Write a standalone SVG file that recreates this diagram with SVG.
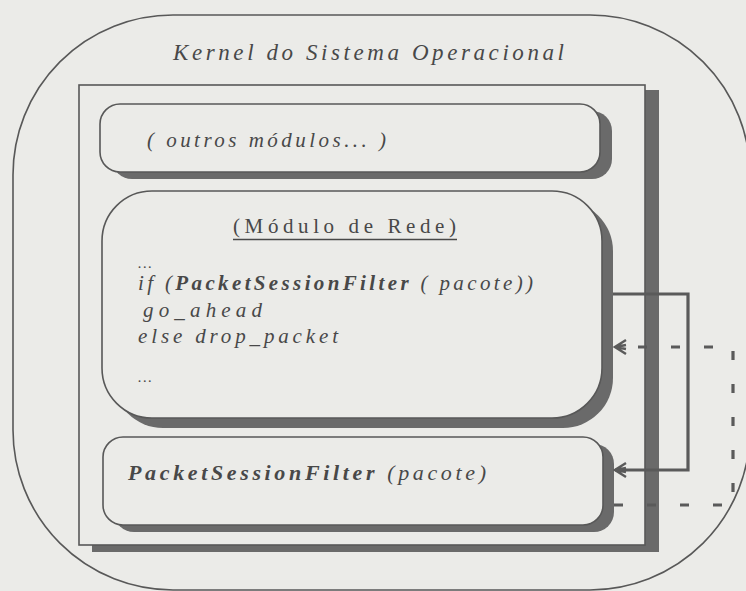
<svg xmlns="http://www.w3.org/2000/svg" width="746" height="591" viewBox="0 0 746 591">
<style>
.bg{fill:#ebebe8}
.ln{fill:none;stroke:#585858;stroke-width:1.6}
.box{fill:#ebebe8;stroke:#585858;stroke-width:1.6}
.sh{fill:#6a6a6a}
.t{font-family:"Liberation Serif","Times New Roman",serif;font-style:italic;fill:#484848}
.b{font-weight:bold}
.con{fill:none;stroke:#5a5a5a;stroke-width:3.2}
.dash{stroke-dasharray:9 24}
</style>
<defs>
<marker id="arr" viewBox="-14 -10 16 20" refX="0" refY="0" markerWidth="16" markerHeight="20" markerUnits="userSpaceOnUse" orient="auto">
<path d="M-11,-7 L0,0 L-11,7 M-11,-2 L0,0 L-11,2" fill="none" stroke="#5a5a5a" stroke-width="2.4"/>
</marker>
</defs>
<rect class="bg" x="0" y="0" width="746" height="591"/>
<g id="kernel">
<rect class="ln" x="13" y="15" width="737" height="575" rx="160" ry="160"/>
<text class="t" x="173" y="60" font-size="23" textLength="391" lengthAdjust="spacing">Kernel do Sistema Operacional</text>
</g>
<g id="container">
<rect class="sh" x="645" y="90" width="14" height="462"/>
<rect class="sh" x="92" y="545" width="567" height="7"/>
<rect class="ln" x="79" y="85" width="566" height="460"/>
</g>
<g id="outros">
<rect class="sh" x="112" y="111" width="500" height="68" rx="20"/>
<rect class="box" x="100" y="104" width="500" height="68" rx="20"/>
<text class="t" x="147" y="147" font-size="21" textLength="239" lengthAdjust="spacing">( outros módulos... )</text>
</g>
<g id="rede">
<rect class="sh" x="113" y="201" width="500" height="227" rx="50"/>
<rect class="box" x="102" y="191" width="500" height="227" rx="50"/>
<text class="t" x="233" y="233" font-size="21" style="font-style:normal" textLength="223" lengthAdjust="spacing">(Módulo de Rede)</text>
<line x1="233" y1="239.5" x2="457" y2="239.5" stroke="#484848" stroke-width="1.3"/>
<text class="t" x="138" y="268" font-size="15" textLength="14" lengthAdjust="spacing">...</text>
<text class="t" x="138" y="290" font-size="21" textLength="395" lengthAdjust="spacing">if (<tspan class="b">PacketSessionFilter</tspan> ( pacote))</text>
<text class="t" x="143" y="317" font-size="21" textLength="119" lengthAdjust="spacing">go_ahead</text>
<text class="t" x="138" y="343" font-size="21" textLength="200" lengthAdjust="spacing">else drop_packet</text>
<text class="t" x="138" y="382" font-size="15" textLength="14" lengthAdjust="spacing">...</text>
</g>
<g id="filter">
<rect class="sh" x="114" y="444" width="500" height="88" rx="20"/>
<rect class="box" x="103" y="437" width="500" height="88" rx="20"/>
<text class="t" x="128" y="480" font-size="22" textLength="358" lengthAdjust="spacing"><tspan class="b">PacketSessionFilter</tspan> (pacote)</text>
</g>
<g id="connectors">
<path class="con" d="M613,294 H688 V470 H615" marker-end="url(#arr)"/>
<path class="con dash" d="M614,505 H733 V347 H615" marker-end="url(#arr)"/>
</g>
</svg>
